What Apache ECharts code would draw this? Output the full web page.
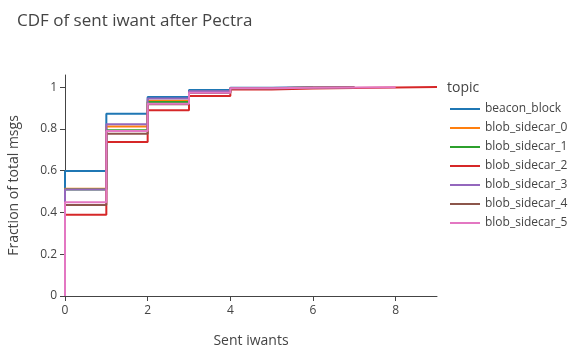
<!DOCTYPE html>
<html><head><meta charset="utf-8">
<script src="https://cdn.jsdelivr.net/npm/echarts@6/dist/echarts.min.js"></script>
<style>html,body{margin:0;padding:0;background:#fff}#c{width:580px;height:358px}</style>
</head><body><div id="c"></div>
<script>
const topics = ["beacon_block","blob_sidecar_0","blob_sidecar_1","blob_sidecar_2","blob_sidecar_3","blob_sidecar_4","blob_sidecar_5"];
const colors = ["#1f77b4","#ff7f0e","#2ca02c","#d62728","#9467bd","#8c564b","#e377c2"];
const xBeacon = [0,0,1,2,3,4,5,6];
const yBeacon = [0,0.598,0.873,0.953,0.986,0.997,0.999,1];
const xBlob0 = [0,0,1,2,3,4,5,6,7];
const yBlob0 = [0,0.514,0.812,0.935,0.978,0.995,0.998,0.999,1];
const xBlob1 = [0,0,1,2,3,4,5,6,7];
const yBlob1 = [0,0.51,0.793,0.929,0.976,0.994,0.998,0.999,1];
const xBlob2 = [0,0,1,2,3,4,5,6,7,8,9];
const yBlob2 = [0,0.389,0.737,0.889,0.957,0.989,0.993,0.996,0.998,1,1];
const xBlob3 = [0,0,1,2,3,4,5,6,7];
const yBlob3 = [0,0.51,0.822,0.945,0.98,0.996,0.998,0.999,1];
const xBlob4 = [0,0,1,2,3,4,5,6,7];
const yBlob4 = [0,0.436,0.777,0.918,0.972,0.993,0.997,0.999,1];
const xBlob5 = [0,0,1,2,3,4,5,6,7,8];
const yBlob5 = [0,0.449,0.79,0.92,0.973,0.994,0.997,0.998,0.999,1];
const xs = [xBeacon,xBlob0,xBlob1,xBlob2,xBlob3,xBlob4,xBlob5];
const ys = [yBeacon,yBlob0,yBlob1,yBlob2,yBlob3,yBlob4,yBlob5];
const xTicks = [0,2,4,6,8];
const yTicks = [0,0.2,0.4,0.6,0.8,1];

const font = "'Open Sans', sans-serif";
const chart = echarts.init(document.getElementById('c'), null, {renderer:'canvas'});
chart.setOption({
  animation:false,
  backgroundColor:'#fff',
  title:{text:'CDF of sent iwant after Pectra', left:12, top:8,
    textStyle:{fontFamily:font, fontSize:17, fontWeight:'normal', color:'#444'}},
  graphic:[{type:'text', left:447, top:81, style:{text:'topic', fontFamily:font, fontSize:14, fill:'#444'}}],
  legend:{orient:'vertical', left:445, top:98, itemGap:7, itemWidth:30, itemHeight:2, icon:'rect',
    textStyle:{fontFamily:font, fontSize:12, color:'#444', padding:[0,0,0,0]},
    data:topics},
  grid:{left:65, right:143, top:75, bottom:62, containLabel:false, outerBoundsMode:'none'},
  xAxis:{type:'value', min:0, max:9, name:'Sent iwants', nameLocation:'middle', nameGap:38,
    nameTextStyle:{fontFamily:font, fontSize:14, color:'#444'},
    axisLine:{show:true, lineStyle:{color:'#444', width:1}},
    axisTick:{show:true, length:5, inside:false, customValues:xTicks, lineStyle:{color:'#444'}},
    axisLabel:{fontFamily:font, fontSize:12, color:'#444', margin:9, customValues:xTicks},
    splitLine:{show:false}},
  yAxis:{type:'value', min:0, max:1.058, name:'Fraction of total msgs', nameLocation:'middle', nameGap:44,
    nameTextStyle:{fontFamily:font, fontSize:14, color:'#444'},
    axisLine:{show:true, lineStyle:{color:'#444', width:1}},
    axisTick:{show:true, length:5, inside:false, customValues:yTicks, lineStyle:{color:'#444'}},
    axisLabel:{fontFamily:font, fontSize:12, color:'#444', margin:8, customValues:yTicks},
    splitLine:{show:false}},
  series: topics.map((t,i)=>({
    name:t, type:'line', step:'end', showSymbol:false, symbol:'none',
    color:colors[i], lineStyle:{width:2, color:colors[i]},
    data: xs[i].map((x,j)=>[x, ys[i][j]])
  }))
});
</script></body></html>
